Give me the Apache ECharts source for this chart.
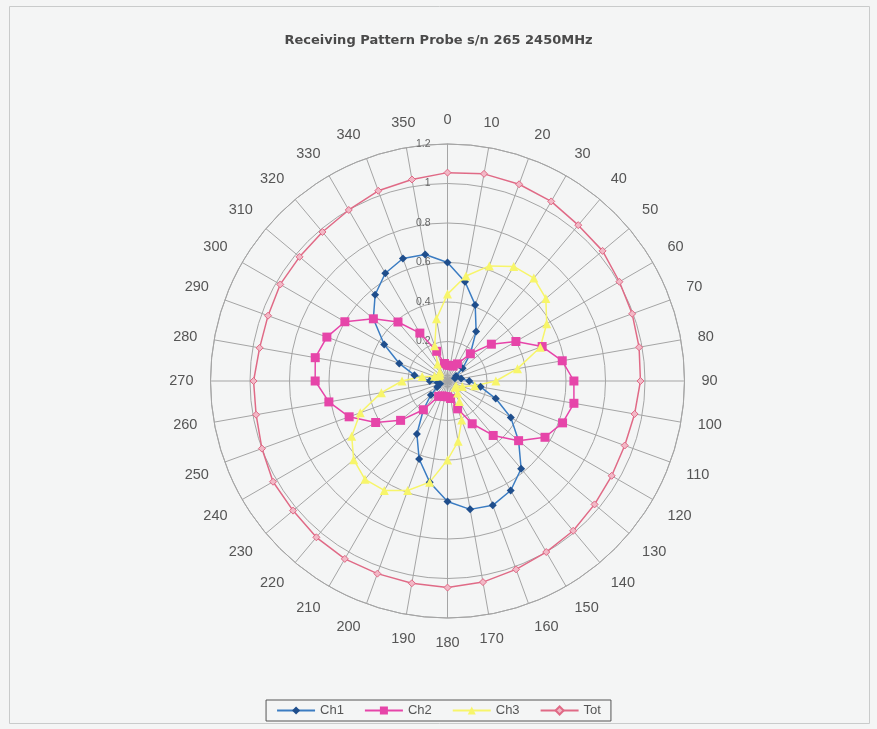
<!DOCTYPE html>
<html>
<head>
<meta charset="utf-8">
<script src="https://cdn.jsdelivr.net/npm/echarts@6/dist/echarts.min.js"></script>
<style>
html,body{margin:0;padding:0;background:#f4f5f5;}
#chart{width:877px;height:729px;}
</style>
</head>
<body>
<div id="chart"></div>
<script>
// Angles (degrees) of the measurements
const angles = [0,10,20,30,40,50,60,70,80,90,100,110,120,130,140,150,160,170,180,190,200,210,220,230,240,250,260,270,280,290,300,310,320,330,340,350];
const ch1 = [0.60,0.51,0.41,0.29,0.18,0.10,0.05,0.04,0.07,0.11,0.17,0.26,0.37,0.47,0.58,0.64,0.67,0.66,0.61,0.52,0.42,0.31,0.19,0.11,0.06,0.04,0.05,0.09,0.17,0.26,0.37,0.49,0.57,0.63,0.66,0.65];
const ch2 = [0.08,0.08,0.08,0.10,0.18,0.29,0.40,0.51,0.59,0.64,0.65,0.62,0.57,0.47,0.36,0.25,0.15,0.09,0.08,0.08,0.08,0.09,0.19,0.31,0.42,0.53,0.61,0.67,0.68,0.65,0.60,0.49,0.39,0.28,0.16,0.09];
const ch3 = [0.44,0.54,0.62,0.67,0.68,0.65,0.58,0.50,0.36,0.245,0.14,0.08,0.05,0.05,0.08,0.12,0.21,0.31,0.40,0.52,0.59,0.64,0.65,0.62,0.56,0.47,0.34,0.23,0.13,0.07,0.05,0.05,0.06,0.10,0.19,0.32];
const tot = [1.055,1.065,1.06,1.05,1.03,1.025,1.005,0.995,0.985,0.977,0.962,0.955,0.96,0.972,0.99,1.0,1.015,1.034,1.046,1.04,1.038,1.04,1.033,1.021,1.02,1.0,0.984,0.982,0.966,0.967,0.978,0.978,0.985,1.0,1.025,1.036];
const radiusTicks = [0,0.2,0.4,0.6,0.8,1,1.2];
const seriesNames = ['Ch1','Ch2','Ch3','Tot'];
const titleText = 'Receiving Pattern Probe s/n 265 2450MHz';

function loop(values){
  const d = angles.map((a,i)=>[values[i], a]);
  d.push({value:[values[0], 360], symbol:'none'});
  return d;
}

const chart = echarts.init(document.getElementById('chart'), null, {renderer:'canvas'});
const font = 'Arial, "Liberation Sans", sans-serif';
chart.setOption({
  backgroundColor:'#f4f5f5',
  animation:false,
  title:{
    text:titleText, left:'center', top:29,
    textStyle:{fontFamily:'"DejaVu Sans", sans-serif', fontSize:13, fontWeight:'bold', color:'#4a4a4a'}
  },
  graphic:[{
    type:'rect', shape:{x:9.5,y:6.5,width:860,height:717},
    style:{fill:'none', stroke:'#c9cbcb', lineWidth:1}, silent:true, z:-1
  }],
  legend:{
    data:seriesNames, bottom:8, left:'center',
    itemWidth:38, itemHeight:10, itemGap:20,
    borderColor:'#555', borderWidth:1, padding:[4,10],
    textStyle:{fontFamily:font, fontSize:13, color:'#555'}
  },
  polar:{center:[447.5,381], radius:237},
  angleAxis:{
    type:'value', min:0, max:360, interval:10, startAngle:90, clockwise:true,
    axisLine:{show:true, lineStyle:{color:'#a5a5a5', width:1}},
    axisTick:{show:false},
    splitLine:{show:true, lineStyle:{color:'#a5a5a5', width:1}},
    axisLabel:{
      margin:17, fontFamily:font, fontSize:14.5, color:'#555',
      formatter:function(v){ return angles.indexOf(v) >= 0 ? String(v) : ''; }
    }
  },
  radiusAxis:{
    type:'value', min:radiusTicks[0], max:radiusTicks[radiusTicks.length-1], interval:0.2,
    axisLine:{show:true, lineStyle:{color:'#a5a5a5'}},
    axisTick:{show:false},
    splitLine:{show:true, lineStyle:{color:'#a5a5a5', width:1}},
    axisLabel:{
      inside:true, showMinLabel:false, margin:17, fontFamily:font, fontSize:10.5, color:'#666',
      formatter:function(v){ const t = radiusTicks.find(x=>Math.abs(x-v)<1e-6); return t===undefined ? '' : String(t); }
    },
    z:1
  },
  series:[
    {name:'Ch1', type:'line', coordinateSystem:'polar', data:loop(ch1),
     symbol:'diamond', symbolSize:8, color:'#1f4e8c',
     lineStyle:{color:'#3b7cc2', width:1.5},
     itemStyle:{color:'#1f4e8c'}},
    {name:'Ch2', type:'line', coordinateSystem:'polar', data:loop(ch2),
     symbol:'rect', symbolSize:9, color:'#e645a9',
     lineStyle:{color:'#e645a9', width:1.5},
     itemStyle:{color:'#e645a9'}},
    {name:'Ch3', type:'line', coordinateSystem:'polar', data:loop(ch3),
     symbol:'triangle', symbolSize:9, color:'#f7f56a',
     lineStyle:{color:'#f7f56a', width:1.5},
     itemStyle:{color:'#f7f56a'}},
    {name:'Tot', type:'line', coordinateSystem:'polar', data:loop(tot),
     symbol:'diamond', symbolSize:7, color:'#e06a86',
     lineStyle:{color:'#e06a86', width:1.5},
     itemStyle:{color:'#f2b8c6', borderColor:'#e06a86', borderWidth:1}}
  ]
});
</script>
</body>
</html>
